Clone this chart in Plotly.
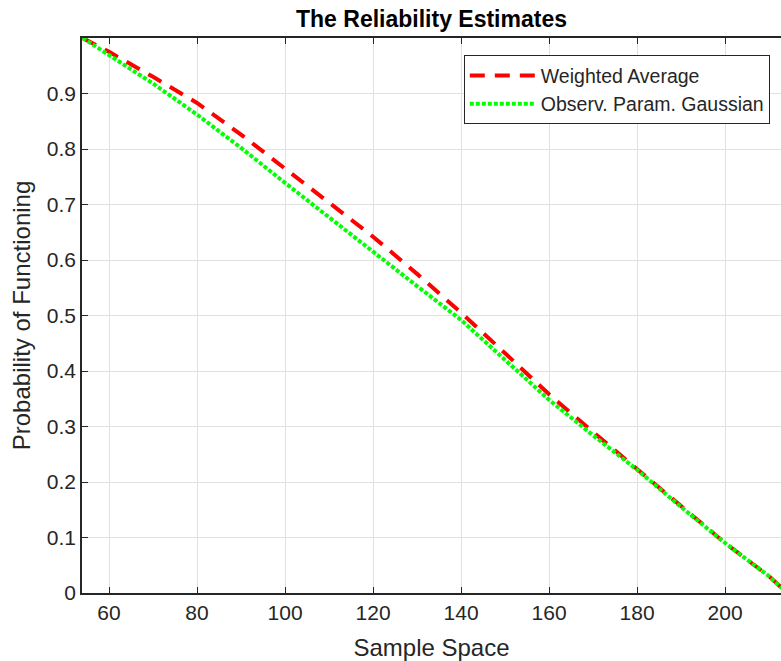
import plotly.graph_objects as go

sample_space = [54, 60, 70, 80, 90, 100, 110, 120, 130, 140, 150, 160, 170, 180, 190, 200, 210, 213]
weighted_average = [1.0, 0.975, 0.930, 0.883, 0.826, 0.764, 0.703, 0.642, 0.575, 0.505,
                    0.432, 0.358, 0.290, 0.224, 0.156, 0.090, 0.030, 0.008]
observ_gaussian = [1.0, 0.970, 0.918, 0.862, 0.802, 0.739, 0.678, 0.615, 0.553, 0.492,
                   0.420, 0.348, 0.284, 0.222, 0.155, 0.090, 0.030, 0.008]
y_ticks = [0, 0.1, 0.2, 0.3, 0.4, 0.5, 0.6, 0.7, 0.8, 0.9]
x_ticks = [60, 80, 100, 120, 140, 160, 180, 200]

FONT = "Liberation Sans, Arial, Helvetica, sans-serif"
AX = "#262626"

W, H = 781, 661

fig = go.Figure()
fig.add_trace(go.Scatter(x=sample_space, y=weighted_average, mode="lines",
                         name="Weighted Average",
                         line=dict(color="#ff0000", width=4, dash="15px,10px")))
fig.add_trace(go.Scatter(x=sample_space, y=observ_gaussian, mode="lines",
                         name="Observ. Param. Gaussian",
                         line=dict(color="#00ff00", width=4, dash="4px,2px")))

fig.update_layout(
    width=W, height=H,
    margin=dict(l=82, r=0, t=38, b=68, pad=0),
    paper_bgcolor="white", plot_bgcolor="white",
    font=dict(family=FONT, color=AX),
    title=dict(text="<b>The Reliability Estimates</b>", x=(82 + W) / 2 / W, xanchor="center",
               y=1 - 19 / H, yanchor="middle", font=dict(size=23, color="#000000", family=FONT)),
    showlegend=True,
    legend=dict(x=0.984, y=0.969, xanchor="right", yanchor="top",
                bgcolor="white", bordercolor=AX, borderwidth=1,
                font=dict(size=19.5, color=AX, family=FONT),
                itemwidth=66, tracegroupgap=0),
)
fig.update_xaxes(range=[53.86, 212.7], tickvals=x_ticks, showgrid=True, gridcolor="#e0e0e0", gridwidth=1,
                 showline=True, linecolor=AX, linewidth=1.5, mirror="ticks",
                 ticks="inside", ticklen=6, tickcolor=AX, zeroline=False,
                 tickfont=dict(size=21, color=AX),
                 title=dict(text="Sample Space", font=dict(size=24, color=AX), standoff=16))
fig.update_yaxes(range=[0, 1.0], tickvals=y_ticks, showgrid=True, gridcolor="#e0e0e0", gridwidth=1,
                 showline=True, linecolor=AX, linewidth=1.5, mirror=False,
                 ticks="inside", ticklen=6, tickcolor=AX, zeroline=False,
                 tickfont=dict(size=21, color=AX),
                 title=dict(text="Probability of Functioning", font=dict(size=24, color=AX), standoff=9))

fig.write_html("out.html", config={"displayModeBar": False},
               post_script="document.body.style.margin='0';document.body.style.overflow='hidden';")
